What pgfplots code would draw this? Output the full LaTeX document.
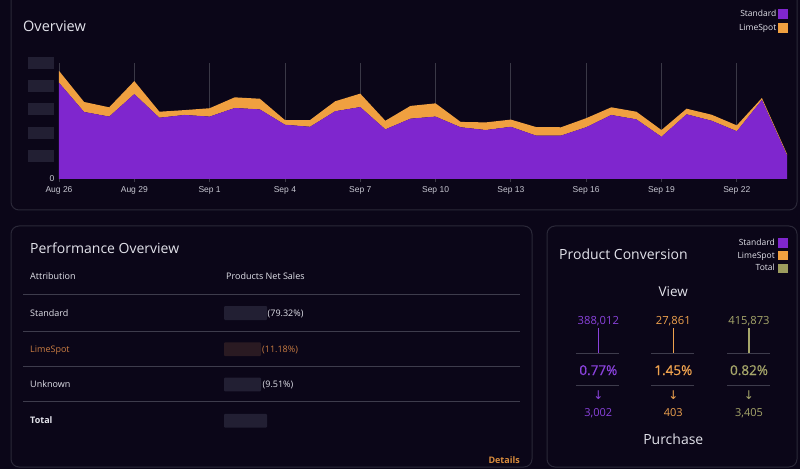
\documentclass[border=0pt]{standalone}
\usepackage{pgfplots}
\usepackage{pgfplotstable}
\pgfplotsset{compat=1.18}
\usepackage{fontspec}
\setmainfont{Open Sans}
\newfontfamily\arialf{Liberation Sans}
\newfontfamily\djv{DejaVu Sans}
\newfontfamily\osemi[FakeBold=0.8]{Open Sans}
\definecolor{bg}{HTML}{0B0618}
\definecolor{panelb}{HTML}{2A2838}
\definecolor{stdc}{HTML}{7F26CE}
\definecolor{limec}{HTML}{F0A040}
\definecolor{txt}{HTML}{E2E2EA}
\definecolor{tickc}{HTML}{C8C8D2}
\definecolor{gridc}{HTML}{3A3846}
\definecolor{blurc}{HTML}{221F33}
\definecolor{blurl}{HTML}{2A1A22}
\definecolor{linec}{HTML}{3E3C4C}
\definecolor{limetxt}{HTML}{C97C42}
\definecolor{detc}{HTML}{D98C3C}
\definecolor{cpur}{HTML}{8A42DC}
\definecolor{cora}{HTML}{EFA24E}
\definecolor{coli}{HTML}{A6A66A}
\definecolor{olsq}{HTML}{9C9C5E}
\newcommand{\bbox}{\textcolor{blurc}{\rule[-6pt]{26pt}{12pt}}}

\pgfplotstableread{
d std lime
0 4.15 0.51
1 2.89 0.43
2 2.69 0.40
3 3.66 0.56
4 2.64 0.26
5 2.76 0.21
6 2.69 0.36
7 3.06 0.46
8 3.00 0.46
9 2.34 0.20
10 2.25 0.29
11 2.92 0.43
12 3.10 0.58
13 2.14 0.37
14 2.60 0.55
15 2.69 0.57
16 2.23 0.23
17 2.11 0.33
18 2.25 0.31
19 1.87 0.37
20 1.87 0.36
21 2.23 0.39
22 2.76 0.33
23 2.57 0.33
24 1.82 0.29
25 2.79 0.24
26 2.51 0.26
27 2.06 0.25
28 3.41 0.08
29 1.02 0.06
}\datatable

\begin{document}
\begin{tikzpicture}[x=1pt,y=1pt]
\fill[bg] (0,0) rectangle (800,469);
\useasboundingbox (0,0) rectangle (800,469);
% panels
\draw[panelb, line width=1pt, rounded corners=8pt] (11,485) rectangle (797,259);
\draw[panelb, line width=1pt, rounded corners=8pt] (11,243) rectangle (532,2);
\draw[panelb, line width=1pt, rounded corners=8pt] (547,243) rectangle (797,2);

\node[anchor=base west, font=\fontsize{14.5}{16}\selectfont, text=txt, inner sep=0] at (23,437.5) {Overview};

\begin{axis}[
  at={(59pt,290pt)}, anchor=south west,
  scale only axis, width=728pt, height=116pt,
  xmin=0, xmax=29, ymin=0, ymax=5,
  axis line style={draw=none},
  xtick={0,3,...,27},
  xticklabels={Aug 26,Aug 29,Sep 1,Sep 4,Sep 7,Sep 10,Sep 13,Sep 16,Sep 19,Sep 22},
  xtick pos=bottom, xtick align=outside, major tick length=3pt,
  xtick style={gridc, line width=0.8pt},
  xmajorgrids, grid style={gridc, line width=0.8pt},
  ytick={0,1,2,3,4,5},
  yticklabels={0,\bbox,\bbox,\bbox,\bbox,\bbox},
  ytick style={draw=none},
  tick label style={font=\arialf\fontsize{8.5}{10}\selectfont, text=tickc},
  xticklabel style={yshift=-1pt},
  yticklabel style={xshift=-1pt},
  stack plots=y,
  legend plot pos=right,
  legend cell align=right,
  legend style={at={(rel axis cs:1.0014,1.474)}, anchor=north east, draw=none, fill=none,
    font=\fontsize{8.5}{10}\selectfont, text=txt, row sep=2pt, inner sep=0pt},
  legend image code/.code={\fill[#1] (0pt,-4.75pt) rectangle (9.5pt,4.75pt);},
]
\addplot[fill=stdc, draw=none] table[x=d, y=std] {\datatable} \closedcycle;
\addplot[fill=limec, draw=none] table[x=d, y=lime] {\datatable} \closedcycle;
\legend{Standard,LimeSpot}
\end{axis}

% Performance overview
\node[anchor=base west, font=\fontsize{14}{16}\selectfont, text=txt, inner sep=0] at (30,215.8) {Performance Overview};
\begin{scope}[every node/.style={anchor=base west, inner sep=0, font=\fontsize{9}{11}\selectfont, text=txt}]
\node at (30,189.8) {Attribution};
\node at (226,189.8) {Products Net Sales};
\node at (30,152.8) {Standard};
\node[text=limetxt] at (30,116.6) {LimeSpot};
\node at (30,81.8) {Unknown};
\node[font=\fontsize{9}{11}\selectfont\bfseries] at (30,45.6) {Total};
\node at (267.5,152.8) {(79.32\%)};
\node[text=limetxt] at (262,116.6) {(11.18\%)};
\node at (262.5,81.8) {(9.51\%)};
\node[anchor=base east, text=detc, font=\fontsize{9}{11}\selectfont\bfseries] at (520,5.9) {Details};
\end{scope}
\foreach \yy in {174.2,138,103,68} {\draw[linec, line width=0.8pt] (23,\yy) -- (520,\yy);}
\fill[blurc, rounded corners=1pt] (224,149) rectangle (267,163);
\fill[blurl, rounded corners=1pt] (224,112.8) rectangle (261,126.6);
\fill[blurc, rounded corners=1pt] (224,77.6) rectangle (261,91.4);
\fill[blurc, rounded corners=1pt] (224,41.4) rectangle (267,55.2);

% Product conversion
\node[anchor=base west, font=\fontsize{14}{16}\selectfont, text=txt, inner sep=0] at (559,210) {Product Conversion};
\begin{scope}[every node/.style={anchor=base east, inner sep=0, font=\fontsize{8.5}{10}\selectfont, text=txt}]
\node at (775,223) {Standard};
\node at (775,211) {LimeSpot};
\node at (775,198.5) {Total};
\end{scope}
\fill[stdc] (778.3,221.3) rectangle (787.7,230.5);
\fill[limec] (778.3,208.5) rectangle (787.7,217.7);
\fill[olsq] (778.3,196) rectangle (787.7,205.2);
\node[anchor=base, inner sep=0, font=\fontsize{13.5}{16}\selectfont, text=txt] at (673.3,172.3) {View};
\node[anchor=base, inner sep=0, font=\fontsize{14}{16}\selectfont, text=txt] at (673.3,25) {Purchase};
\foreach \cx/\cc/\va/\pa/\pu in {598.3/cpur/{388,012}/{0.77\%}/{3,002}, 673.3/cora/{27,861}/{1.45\%}/{403}, 749/coli/{415,873}/{0.82\%}/{3,405}} {
  \node[anchor=base, inner sep=0, font=\fontsize{11.2}{13}\selectfont, text=\cc] at (\cx,145) {\va};
  \fill[fill=\cc] (\cx-0.8,141) rectangle (\cx+0.8,116.3);
  \draw[linec, line width=0.8pt] (\cx-22,115.7) -- (\cx+21,115.7);
  \node[anchor=base, inner sep=0, font=\osemi\fontsize{13.5}{15}\selectfont, text=\cc] at (\cx,94) {\pa};
  \draw[linec, line width=0.8pt] (\cx-22,84) -- (\cx+21,84);
  \node[anchor=center, inner sep=0, font=\djv\fontsize{12}{14}\selectfont, text=\cc] at (\cx,74) {↓};
  \node[anchor=base, inner sep=0, font=\fontsize{11}{13}\selectfont, text=\cc] at (\cx,52.3) {\pu};
}
\end{tikzpicture}
\end{document}
